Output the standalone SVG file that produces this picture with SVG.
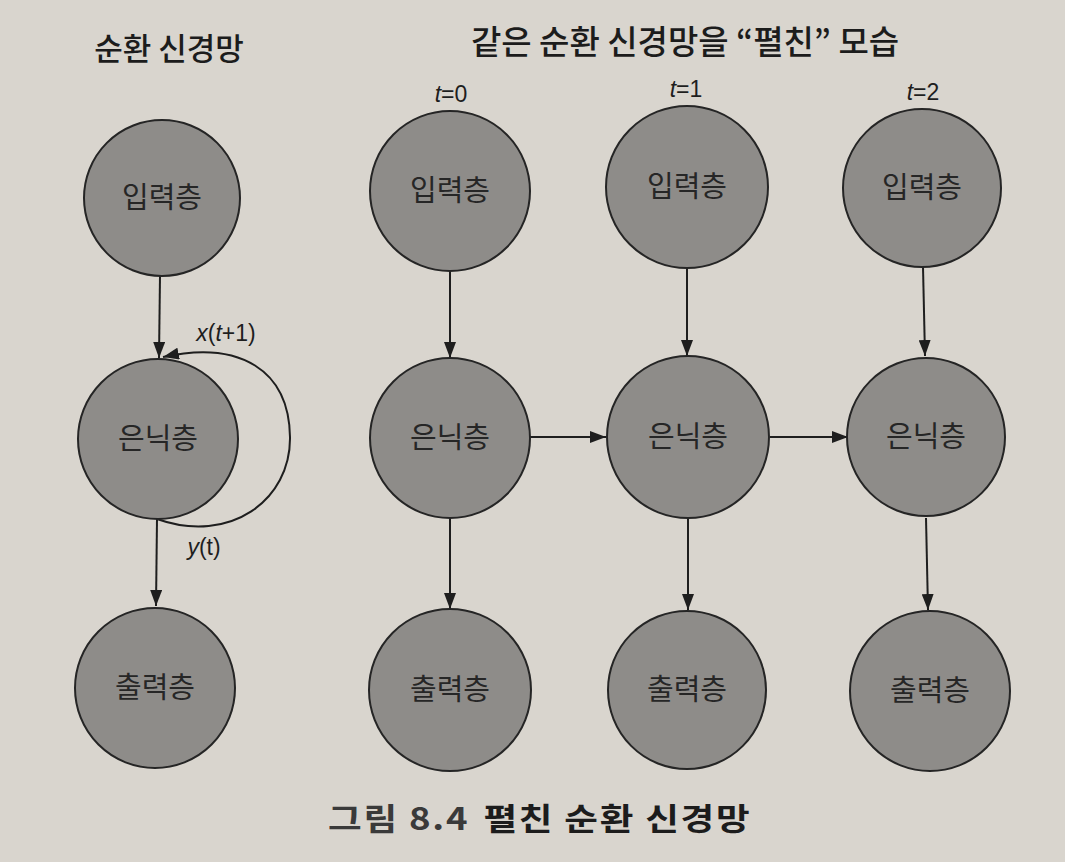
<svg xmlns="http://www.w3.org/2000/svg" width="1065" height="862" viewBox="0 0 1065 862">
<defs>
<style>
.bg{fill:#d9d5ce}
.node circle{fill:#8e8c89;stroke:#252525;stroke-width:2}
.node text{font-family:"Noto Sans CJK KR","Noto Sans",sans-serif;font-size:29px;fill:#262626;text-anchor:middle}
.edge{stroke:#1e1e1e;stroke-width:2;fill:none}
.lbl{font-family:"Liberation Sans",Arial,sans-serif;font-size:23px;fill:#1e1e1e;text-anchor:middle}
.title{font-family:"Noto Sans CJK KR","Noto Sans",sans-serif;font-weight:500;fill:#1c1c1c;text-anchor:middle}
.cap{font-family:"Noto Sans CJK KR","Noto Sans",sans-serif;font-size:31px;font-weight:700;fill:#1c1c1c;letter-spacing:1.5px}
</style>
<marker id="ah" viewBox="0 0 16 12" refX="16" refY="6" markerWidth="16" markerHeight="12" markerUnits="userSpaceOnUse" orient="auto">
<path d="M0,0 L16,6 L0,12 z" fill="#1e1e1e"/>
</marker>
</defs>
<rect class="bg" x="0" y="0" width="1065" height="862"/>

<text class="title" x="169" y="60" font-size="31">순환 신경망</text>
<text class="title" x="685" y="54" font-size="33">같은 순환 신경망을 “펼친” 모습</text>

<text class="lbl" x="451" y="102"><tspan font-style="italic">t</tspan>=0</text>
<text class="lbl" x="686" y="97"><tspan font-style="italic">t</tspan>=1</text>
<text class="lbl" x="923" y="100"><tspan font-style="italic">t</tspan>=2</text>

<g id="connectors">
<line class="edge" x1="160" y1="276" x2="159" y2="358" marker-end="url(#ah)"/>
<line class="edge" x1="157" y1="519" x2="156" y2="606" marker-end="url(#ah)"/>
<path class="edge" d="M157,519 C230,545 291,500 290,437 C289,370 240,340 163,357" marker-end="url(#ah)"/>
<line class="edge" x1="450" y1="271" x2="450" y2="358" marker-end="url(#ah)"/>
<line class="edge" x1="687" y1="268" x2="687" y2="356" marker-end="url(#ah)"/>
<line class="edge" x1="923" y1="267" x2="925" y2="356" marker-end="url(#ah)"/>
<line class="edge" x1="450" y1="518" x2="450" y2="609" marker-end="url(#ah)"/>
<line class="edge" x1="688" y1="518" x2="688" y2="610" marker-end="url(#ah)"/>
<line class="edge" x1="926" y1="518" x2="928" y2="610" marker-end="url(#ah)"/>
<line class="edge" x1="530" y1="437" x2="606" y2="437" marker-end="url(#ah)"/>
<line class="edge" x1="770" y1="437" x2="848" y2="437" marker-end="url(#ah)"/>
</g>

<text class="lbl" x="226" y="341" font-size="25"><tspan font-style="italic">x</tspan>(<tspan font-style="italic">t</tspan>+1)</text>
<text class="lbl" x="204" y="555" font-size="25"><tspan font-style="italic">y</tspan>(t)</text>

<g id="rnn-input" class="node"><circle cx="162" cy="198" r="78"/><text x="162" y="208">입력층</text></g>
<g id="rnn-hidden" class="node"><circle cx="158" cy="439" r="80"/><text x="158" y="449">은닉층</text></g>
<g id="rnn-output" class="node"><circle cx="155" cy="688" r="80"/><text x="155" y="698">출력층</text></g>

<g id="t0-input" class="node"><circle cx="450" cy="191" r="80"/><text x="450" y="201">입력층</text></g>
<g id="t0-hidden" class="node"><circle cx="450" cy="438" r="80"/><text x="450" y="448">은닉층</text></g>
<g id="t0-output" class="node"><circle cx="450" cy="690" r="81"/><text x="450" y="700">출력층</text></g>

<g id="t1-input" class="node"><circle cx="687" cy="187" r="81"/><text x="687" y="197">입력층</text></g>
<g id="t1-hidden" class="node"><circle cx="688" cy="437" r="81"/><text x="688" y="447">은닉층</text></g>
<g id="t1-output" class="node"><circle cx="687" cy="690" r="79"/><text x="687" y="700">출력층</text></g>

<g id="t2-input" class="node"><circle cx="922" cy="188" r="79"/><text x="922" y="198">입력층</text></g>
<g id="t2-hidden" class="node"><circle cx="926" cy="437" r="79"/><text x="926" y="447">은닉층</text></g>
<g id="t2-output" class="node"><circle cx="930" cy="691" r="80"/><text x="930" y="701">출력층</text></g>

<text class="cap" transform="translate(328,830) scale(1.18,1)" x="0" y="0"><tspan fill="#3a3a3a">그림 8.4</tspan><tspan dx="12">펼친 순환 신경망</tspan></text>
</svg>
